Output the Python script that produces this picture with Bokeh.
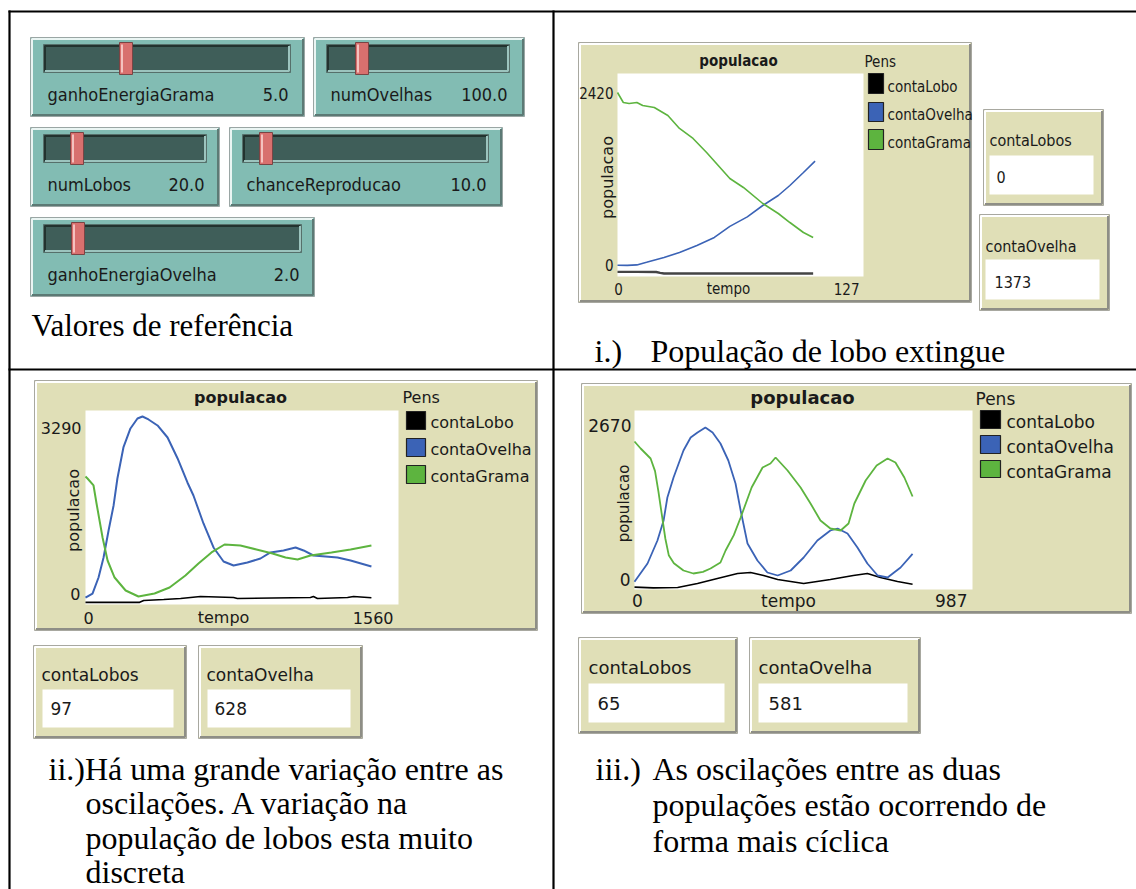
from bokeh.plotting import figure
from bokeh.models import Range1d
from bokeh.core.properties import value
from bokeh.embed import file_html
from bokeh.resources import INLINE

# ---------------- data ----------------
slider_names = ["ganhoEnergiaGrama", "numOvelhas", "numLobos", "chanceReproducao", "ganhoEnergiaOvelha"]
slider_values = ["5.0", "100.0", "20.0", "10.0", "2.0"]

pen_names = ["contaLobo", "contaOvelha", "contaGrama"]
monitor_names = ["contaLobos", "contaOvelha"]
plot_title = "populacao"
x_label = "tempo"
y_label = "populacao"

# panel i
p1_xmax, p1_ymax = 127, 2420
p1_monitor = ["0", "1373"]
p1_t_lobo = [0, 10, 20, 22, 24, 101]
p1_lobo = [20, 20, 18, 8, 0, 0]
p1_t_ovelha = [0, 5, 10, 15, 24, 32, 41, 50, 58, 67, 75, 83, 89, 96, 102]
p1_ovelha = [100, 98, 104, 135, 194, 254, 339, 436, 570, 685, 823, 944, 1065, 1222, 1360]
p1_t_grama = [0, 3, 6, 10, 13, 19, 26, 32, 39, 46, 52, 58, 65, 75, 83, 89, 96, 101]
p1_grama = [2190, 2069, 2057, 2069, 2033, 2009, 1912, 1755, 1634, 1464, 1307, 1150, 1041, 847, 726, 617, 496, 436]

# panel ii
p2_xmax, p2_ymax = 1560, 3290
p2_monitor = ["97", "628"]
p2_t_lobo = [0, 270, 290, 390, 474, 573, 738, 757, 1121, 1136, 1156, 1306, 1336, 1425]
p2_lobo = [20, 20, 51, 68, 85, 119, 102, 85, 102, 119, 85, 102, 119, 97]
p2_t_ovelha = [0, 35, 65, 90, 115, 140, 159, 189, 224, 259, 284, 314, 359, 409, 459, 508, 538, 588,
               638, 688, 738, 807, 872, 922, 987, 1047, 1087, 1136, 1256, 1321, 1425]
p2_ovelha = [100, 170, 443, 784, 1245, 1671, 2131, 2660, 2984, 3154, 3188, 3137, 3035, 2830, 2472, 2063,
             1841, 1364, 955, 716, 648, 699, 767, 870, 904, 955, 904, 818, 784, 733, 630]
p2_t_grama = [0, 10, 40, 55, 85, 110, 145, 200, 264, 344, 419, 498, 563, 628, 693, 772, 852, 932, 997,
              1057, 1121, 1226, 1321, 1425]
p2_grama = [2165, 2131, 2012, 1705, 1125, 733, 443, 222, 119, 170, 273, 477, 682, 870, 1006, 989, 921,
            853, 784, 750, 818, 870, 921, 989]

# panel iii
p3_xmax, p3_ymax = 987, 2670
p3_monitor = ["65", "581"]
p3_t_lobo = [0, 55, 126, 184, 242, 301, 339, 377, 418, 494, 572, 639, 680, 718, 768, 812]
p3_lobo = [20, 10, 15, 75, 150, 225, 240, 195, 135, 75, 135, 195, 225, 165, 105, 65]
p3_t_ovelha = [0, 38, 67, 85, 96, 114, 143, 164, 184, 207, 228, 251, 274, 295, 310, 330, 359, 388, 418,
               456, 494, 534, 572, 593, 622, 651, 680, 710, 739, 777, 812]
p3_ovelha = [100, 375, 720, 1020, 1365, 1665, 2070, 2265, 2340, 2415, 2340, 2175, 1920, 1575, 1170, 675,
             420, 240, 195, 270, 465, 720, 870, 900, 825, 615, 375, 195, 165, 315, 520]
p3_t_grama = [0, 18, 47, 60, 70, 80, 90, 100, 115, 143, 172, 200, 222, 251, 266, 290, 310, 342, 374, 397,
              412, 447, 485, 514, 543, 572, 602, 625, 642, 675, 707, 739, 762, 788, 812]
p3_grama = [2205, 2100, 1950, 1760, 1450, 1100, 750, 500, 380, 270, 225, 250, 300, 390, 570, 800, 1065,
            1515, 1815, 1875, 1965, 1770, 1515, 1275, 1020, 900, 870, 975, 1275, 1620, 1845, 1950, 1890,
            1665, 1380]

caption_ref = "Valores de referência"
caption_i = ["i.)", "População de lobo extingue"]
caption_ii = ["ii.)Há uma grande variação entre as", "oscilações. A variação na",
              "população de lobos esta muito", "discreta"]
caption_iii = ["iii.)", "As oscilações entre as duas", "populações estão ocorrendo de", "forma mais cíclica"]

# ---------------- styles ----------------
NARROW = "'DejaVu Sans Condensed', 'Liberation Sans Narrow', 'DejaVu Sans', sans-serif"
SANS = "'DejaVu Sans', sans-serif"
SERIF = "'Liberation Serif', 'Times New Roman', serif"
TAN = "#e0dfb7"
TEAL = "#82bcb3"
TRACK = "#3f5e59"
HANDLE = "#d8706e"
C_LOBO = "#000000"
C_OVELHA = "#3b63b6"
C_GRAMA = "#5db43f"
TXT = "#1a1a1a"

X0, X1, Y0, Y1 = 0, 1136, 889, 0
W, H = X1 - X0, Y0 - Y1

p = figure(width=W, height=H, x_range=Range1d(X0, X1), y_range=Range1d(Y0, Y1),
           output_backend="svg", toolbar_location=None, min_border=0,
           x_axis_location=None, y_axis_location=None)
p.grid.visible = False
p.outline_line_color = None
p.background_fill_color = "white"
p.border_fill_color = "white"


def box(x0, y0, x1, y1, fill, line=None, lw=1.0):
    p.quad(left=[x0], right=[x1], top=[y0], bottom=[y1], fill_color=fill,
           line_color=line, line_width=lw)


def bevel(x0, y0, x1, y1, fill, hi, lo, outer):
    box(x0, y0, x1, y1, fill, outer, 1)
    p.line([x0 + 1.5, x0 + 1.5, x1 - 1.5], [y1 - 1.5, y0 + 1.5, y0 + 1.5], line_color=hi, line_width=2)
    p.line([x0 + 1.5, x1 - 1.5, x1 - 1.5], [y1 - 1.5, y1 - 1.5, y0 + 1.5], line_color=lo, line_width=2)


def txt(x, y, s, size, font, align="left", base="middle", bold=False, angle=0.0, color=TXT):
    p.text(x=[x], y=[y], text=[s], text_font=value(font), text_font_size=value(f"{size}px"),
           text_align=align, text_baseline=base, text_font_style="bold" if bold else "normal",
           angle=angle, text_color=color)


# ---------------- table lines ----------------
for xs, ys in [([8, 1136], [11, 11]), ([9, 9], [10, 889]), ([553, 553], [10, 889]), ([8, 1136], [369, 369])]:
    p.line(xs, ys, line_color="black", line_width=2.2)

# ---------------- sliders ----------------
slider_geom = [  # x0, y0, x1, y1, track_x0, track_x1, handle_x
    (30, 37, 304, 116, 43, 290, 119),
    (313, 37, 524, 116, 326, 509, 355),
    (30, 127, 219, 206, 43, 206, 70),
    (229, 127, 502, 206, 242, 488, 259),
    (30, 217, 314, 296, 43, 301, 71),
]
for (sx0, sy0, sx1, sy1, tx0, tx1, hx), nm, val in zip(slider_geom, slider_names, slider_values):
    bevel(sx0, sy0, sx1, sy1, TEAL, "#eaf5f3", "#5c7a75", "#9aa6a4")
    bevel(tx0, sy0 + 7, tx1, sy0 + 35, TRACK, "#23332f", "#9cc4be", "#56706b")
    box(hx, sy0 + 5, hx + 13, sy0 + 37, HANDLE, "#7a4444", 1)
    p.line([hx + 2.5, hx + 2.5], [sy0 + 7, sy0 + 35], line_color="#f4c2bf", line_width=2)
    txt(sx0 + 17, sy0 + 57, nm, 18, NARROW)
    txt(tx1 - 2, sy0 + 57, val, 18, NARROW, align="right")

txt(31, 325, caption_ref, 31, SERIF, color="#000")

# ---------------- plot panels ----------------
xr, yr = {}, {}


def add_ranges(name, d0, p0, d1, p1, v0, q0, v1, q1):
    kx = (p1 - p0) / (d1 - d0)
    xs = d0 - (p0 - X0) / kx
    xr[name] = Range1d(xs, xs + W / kx)
    ky = (q0 - q1) / (v1 - v0)
    yr[name] = Range1d(v0 - (Y0 - q0) / ky, v0 + (q0 - Y1) / ky)


panels = [
    dict(name="p1", box=(578, 42, 971, 302), white=(617, 73, 863, 276), xmap=(617, 863), ymap=(273, 73),
         xmax=p1_xmax, ymax=p1_ymax, font=NARROW, fs=15, tfs=15, lfs=15, rfs=16,
         title=(738, 60), ylab=(607, 177), ymaxlab=(613, 92), y0lab=(613, 264),
         xlab_y=288, x0lab=618, tempo=728, xmaxlab=859,
         pens=(864, 61), sw=(868, 883, [(73, 93), (102, 121), (129, 149)]), penlab=(887, [86, 114, 142]),
         series=[(p1_t_lobo, p1_lobo, "#444444", 2.4), (p1_t_ovelha, p1_ovelha, C_OVELHA, 1.6),
                 (p1_t_grama, p1_grama, C_GRAMA, 1.6)]),
    dict(name="p2", box=(34, 380, 537, 630), white=(85, 410, 398, 604), xmap=(85, 398), ymap=(603, 410),
         xmax=p2_xmax, ymax=p2_ymax, font=SANS, fs=16, tfs=16, lfs=16, rfs=16,
         title=(240, 397), ylab=(73, 510), ymaxlab=(81, 427), y0lab=(80, 593),
         xlab_y=617, x0lab=88, tempo=223, xmaxlab=393,
         pens=(402, 397), sw=(406, 425, [(411, 429), (438, 456), (465, 483)]), penlab=(430, [422, 449, 476]),
         series=[(p2_t_lobo, p2_lobo, C_LOBO, 1.6), (p2_t_ovelha, p2_ovelha, C_OVELHA, 2.0),
                 (p2_t_grama, p2_grama, C_GRAMA, 2.0)]),
    dict(name="p3", box=(581, 383, 1131, 613), white=(634, 410, 972, 589), xmap=(634, 972), ymap=(588, 410),
         xmax=p3_xmax, ymax=p3_ymax, font=SANS, fs=17, tfs=18, lfs=17, rfs=15,
         title=(802, 397), ylab=(623, 503), ymaxlab=(631, 425), y0lab=(630, 579),
         xlab_y=600, x0lab=637, tempo=788, xmaxlab=967,
         pens=(975, 398), sw=(980, 1000, [(410, 428), (435, 453), (460, 477)]), penlab=(1006, [421, 446, 471]),
         series=[(p3_t_lobo, p3_lobo, C_LOBO, 1.6), (p3_t_ovelha, p3_ovelha, C_OVELHA, 1.8),
                 (p3_t_grama, p3_grama, C_GRAMA, 1.8)]),
]

for P in panels:
    add_ranges(P["name"], 0, P["xmap"][0], P["xmax"], P["xmap"][1], 0, P["ymap"][0], P["ymax"], P["ymap"][1])
p.extra_x_ranges = xr
p.extra_y_ranges = yr

pen_colors = [C_LOBO, C_OVELHA, C_GRAMA]
for P in panels:
    bx0, by0, bx1, by1 = P["box"]
    bevel(bx0, by0, bx1, by1, TAN, "#ffffff", "#8e8e86", "#a8a8a0")
    wx0, wy0, wx1, wy1 = P["white"]
    box(wx0, wy0, wx1, wy1, "white", None)
    f = P["font"]
    txt(P["title"][0], P["title"][1], plot_title, P["tfs"], f, align="center", bold=True)
    txt(P["ylab"][0], P["ylab"][1], y_label, P["rfs"], SANS, align="center", angle=1.5707963)
    txt(P["ymaxlab"][0], P["ymaxlab"][1], str(P["ymax"]), P["fs"], f, align="right")
    txt(P["y0lab"][0], P["y0lab"][1], "0", P["fs"], f, align="right")
    txt(P["x0lab"], P["xlab_y"], "0", P["fs"], f, align="center")
    txt(P["tempo"], P["xlab_y"], x_label, P["fs"], f, align="center")
    txt(P["xmaxlab"], P["xlab_y"], str(P["xmax"]), P["fs"], f, align="right")
    txt(P["pens"][0], P["pens"][1], "Pens", P["lfs"], f)
    sx0, sx1, rows = P["sw"]
    for (ry0, ry1), col, nm, ly in zip(rows, pen_colors, pen_names, P["penlab"][1]):
        box(sx0, ry0, sx1, ry1, col, "#222222", 1.2)
        txt(P["penlab"][0], ly, nm, P["lfs"], f)
    for tt, vv, col, lw in P["series"]:
        p.line(tt, vv, x_range_name=P["name"], y_range_name=P["name"], line_color=col, line_width=lw)

# ---------------- monitors ----------------
monitors = [
    (NARROW, 16, p1_monitor, [((983, 109, 1103, 205), (989, 155, 1093, 194), (989, 140), (996, 176)),
                              ((979, 214, 1109, 310), (985, 259, 1099, 299), (985, 246), (994, 281))]),
    (SANS, 17, p2_monitor, [((33, 645, 186, 738), (42, 689, 173, 727), (41, 674), (50, 708)),
                            ((198, 645, 362, 738), (207, 689, 350, 727), (206, 674), (214, 708))]),
    (SANS, 18, p3_monitor, [((578, 637, 737, 733), (588, 683, 724, 722), (588, 667), (597, 703)),
                            ((749, 637, 920, 733), (758, 683, 907, 722), (758, 667), (768, 703))]),
]
for font, fs, vals, geoms in monitors:
    for (bxy, fxy, lp, vp), nm, vl in zip(geoms, monitor_names, vals):
        bevel(*bxy, TAN, "#ffffff", "#8e8e86", "#a8a8a0")
        box(*fxy, "white", None)
        txt(lp[0], lp[1], nm, fs, font)
        txt(vp[0], vp[1], vl, fs, font)

# ---------------- captions ----------------
txt(594, 350, caption_i[0], 32, SERIF, color="#000")
txt(650, 350, caption_i[1], 32, SERIF, color="#000")
for i, line in enumerate(caption_ii):
    txt(48 if i == 0 else 85, 768 + 34.6 * i, line, 32, SERIF, color="#000")
txt(595, 768, caption_iii[0], 32, SERIF, color="#000")
for i, line in enumerate(caption_iii[1:]):
    txt(652, 768 + 36 * i, line, 32, SERIF, color="#000")

open("out.html", "w").write(file_html(p, INLINE))
